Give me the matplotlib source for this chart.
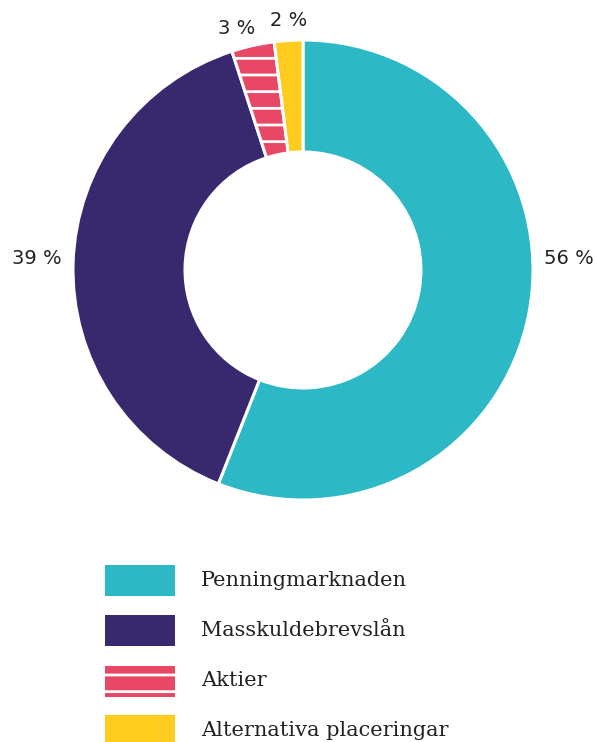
import matplotlib
matplotlib.use("Agg")
import matplotlib.pyplot as plt
from matplotlib.patches import Rectangle

categories = ["Penningmarknaden", "Masskuldebrevslån", "Aktier", "Alternativa placeringar"]
values = [56, 39, 3, 2]
colors = ["#2DB8C5", "#38296E", "#E84865", "#FFCB1F"]
hatches = [None, None, "-", None]
pct_labels = ["56 %", "39 %", "3 %", "2 %"]

plt.rcParams["hatch.linewidth"] = 2.0
plt.rcParams["hatch.color"] = "white"

W, H = 595, 742
fig = plt.figure(figsize=(W / 100, H / 100), dpi=100)
ax = fig.add_axes([0, 0, 1, 1])
cx, cy, R = 303, 270, 230

wedges, _ = ax.pie(values, colors=colors, startangle=90, counterclock=False,
                   radius=1.0, wedgeprops=dict(width=0.487, edgecolor="white", linewidth=2.2))
for w, h in zip(wedges, hatches):
    if h:
        w.set_hatch(h)

ax.set_xlim(-cx / R, (W - cx) / R)
ax.set_ylim(-(H - cy) / R, cy / R)
ax.set_aspect("equal", adjustable="datalim")
ax.axis("off")

# percentage labels (pixel positions converted to data coords)
label_px = [(569, 258), (37, 258), (237, 28), (289, 20)]
for (px, py), t in zip(label_px, pct_labels):
    ax.text((px - cx) / R, (cy - py) / R, t, ha="center", va="center",
            fontsize=14, color="#222222", family="DejaVu Sans")

# legend
row_y = [580, 630, 681, 731]
for i, (lab, col, h) in enumerate(zip(categories, colors, hatches)):
    y = row_y[i]
    rect = Rectangle((105 / W, 1 - (y + 15.5) / H), 70 / W, 31 / H, transform=fig.transFigure,
                     facecolor=col, edgecolor="white" if h else col, linewidth=0,
                     hatch=h)
    fig.add_artist(rect)
    fig.text(201 / W, 1 - y / H, lab, ha="left", va="center", fontsize=15,
             color="#222222", family="DejaVu Serif")

fig.savefig("out.png", dpi=100, facecolor="white")
